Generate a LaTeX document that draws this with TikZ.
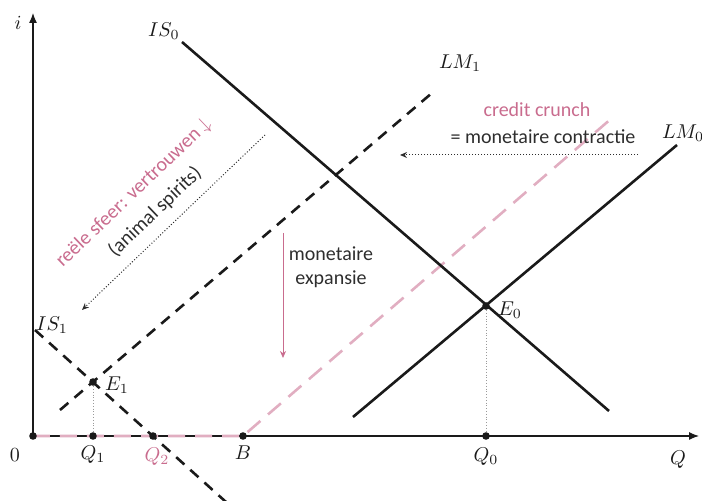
\documentclass[tikz,border=0pt]{standalone}
\usepackage{fontspec}
\setsansfont{Carlito}
\usetikzlibrary{arrows.meta,calc}
\definecolor{CrunchPink}{HTML}{C96C8E}
\definecolor{CurveBlack}{HTML}{1A1A1A}
\definecolor{GuideGray}{HTML}{9A9A9A}
\definecolor{NoteText}{HTML}{2E2E2E}
\tikzset{
  every node/.style = {font=\normalsize, text=CurveBlack},
  axis/.style       = {-{Latex[length=5pt,width=4pt]}, line width=0.6pt,
                       draw=CurveBlack},
  curve/.style      = {line width=1.3pt, draw=CurveBlack},
  curve_shift/.style= {curve, dash pattern=on 5.5pt off 4pt},
  curve_crunch/.style={line width=1.3pt, draw=CrunchPink!55,
                       dash pattern=on 8.5pt off 5pt},
  guide/.style      = {densely dotted, line width=0.4pt, draw=GuideGray},
  dot/.style        = {circle, fill=CurveBlack, minimum size=3.8pt,
                       inner sep=0pt},
  note/.style       = {font=\sffamily\fontsize{10}{12}\selectfont,
                       text=NoteText, inner sep=1pt},
  note_pink/.style  = {note, text=CrunchPink},
  shiftarrow/.style = {-{Stealth[length=3.5pt,width=3pt]}, densely dotted,
                       line width=0.5pt, draw=NoteText},
  pinkarrow/.style  = {-{Stealth[length=3.5pt,width=3pt]},
                       line width=0.4pt, draw=CrunchPink},
}

\begin{document}
\begin{tikzpicture}[x=0.5pt, y=0.5pt]
\useasboundingbox (-33,-65) rectangle (669,436);

% =========================================================================
% Axes
% =========================================================================
\coordinate (O)    at (0,0);
\coordinate (Itop) at (0,423);
\coordinate (Qend) at (666,0);
\draw[axis] (O) -- (Itop);
\draw[axis] (O) -- (Qend);

\node (lbl_i) at (-15,413) {$i$};
\node (lbl_0) at (-18,-19) {$0$};
\node (lbl_Q) at (645,-24) {$Q$};

% =========================================================================
% Curve end points
% =========================================================================
\coordinate (IS0a) at (149,394);  \coordinate (IS0b) at (576,25);
\coordinate (LM0a) at (320,19);   \coordinate (LM0b) at (644,291);
\coordinate (LM1a) at (27,26);    \coordinate (LM1b) at (399,343);
\coordinate (IS1a) at (2,106);    \coordinate (IS1b) at (193,-66);
\coordinate (CRb)  at (579,318);  % credit crunch LM, upper end

% =========================================================================
% Curves
% =========================================================================
\draw[curve_crunch] (O) -- (210,0) -- (CRb);
\draw[curve]        (IS0a) -- (IS0b);
\draw[curve]        (LM0a) -- (LM0b);
\draw[curve_shift]  (LM1a) -- (LM1b);
\draw[curve_shift]  (IS1a) -- (IS1b);

\node[anchor=south east, inner sep=1pt] (lbl_IS0) at (IS0a) {$IS_0$};
\node[anchor=west]  (lbl_LM0) at (622,303) {$LM_0$};
\node               (lbl_LM1) at (427,373) {$LM_1$};
\node               (lbl_IS1) at (19,111)  {$IS_1$};

% =========================================================================
% Equilibria and points on the Q axis
% =========================================================================
\node[dot] (Z)  at (0,0)    {};
\node[dot] (E0) at (453,130) {};
\node[dot] (E1) at (60,54)   {};
\node[dot] (Q0) at (453,0)   {};
\node[dot] (Q1) at (60,0)    {};
\node[dot] (Q2) at (120,0)   {};
\node[dot] (B)  at (210,0)   {};

\draw[guide] (E0) -- (Q0);
\draw[guide] (E1) -- (Q1);

\node (lbl_E0) at (477,126) {$E_0$};
\node (lbl_E1) at (84,51)   {$E_1$};
\node (lbl_Q0) at (453,-21) {$Q_0$};
\node (lbl_Q1) at (60,-19)  {$Q_1$};
\node[text=CrunchPink] (lbl_Q2) at (124,-21) {$Q_2$};
\node (lbl_B)  at (210,-17) {$B$};

% =========================================================================
% Annotations
% =========================================================================
\node[note_pink] (crunch)   at (504,326) {credit crunch};
\node[note]      (contract) at (510,299) {= monetaire contractie};
\coordinate (ccR) at (605,281);
\coordinate (ccL) at (367,281);
\draw[shiftarrow] (ccR) -- (ccL);

\node[note, align=center] (expand) at (298,169) {monetaire\\expansie};
\coordinate (exT) at (250,203);
\coordinate (exB) at (250,78);
\draw[pinkarrow] (exT) -- (exB);

% real sector shift (text rotated along the arrow)
\node[note_pink, rotate=43.7] (confid)  at (101,243)
  {reële sfeer: vertrouwen $\downarrow$};
\node[note, rotate=43.7]      (spirits) at (122,224) {(animal spirits)};
\coordinate (spT) at (232,301);
\coordinate (spB) at (49,126);
\draw[shiftarrow] (spT) -- (spB);

\end{tikzpicture}
\end{document}
